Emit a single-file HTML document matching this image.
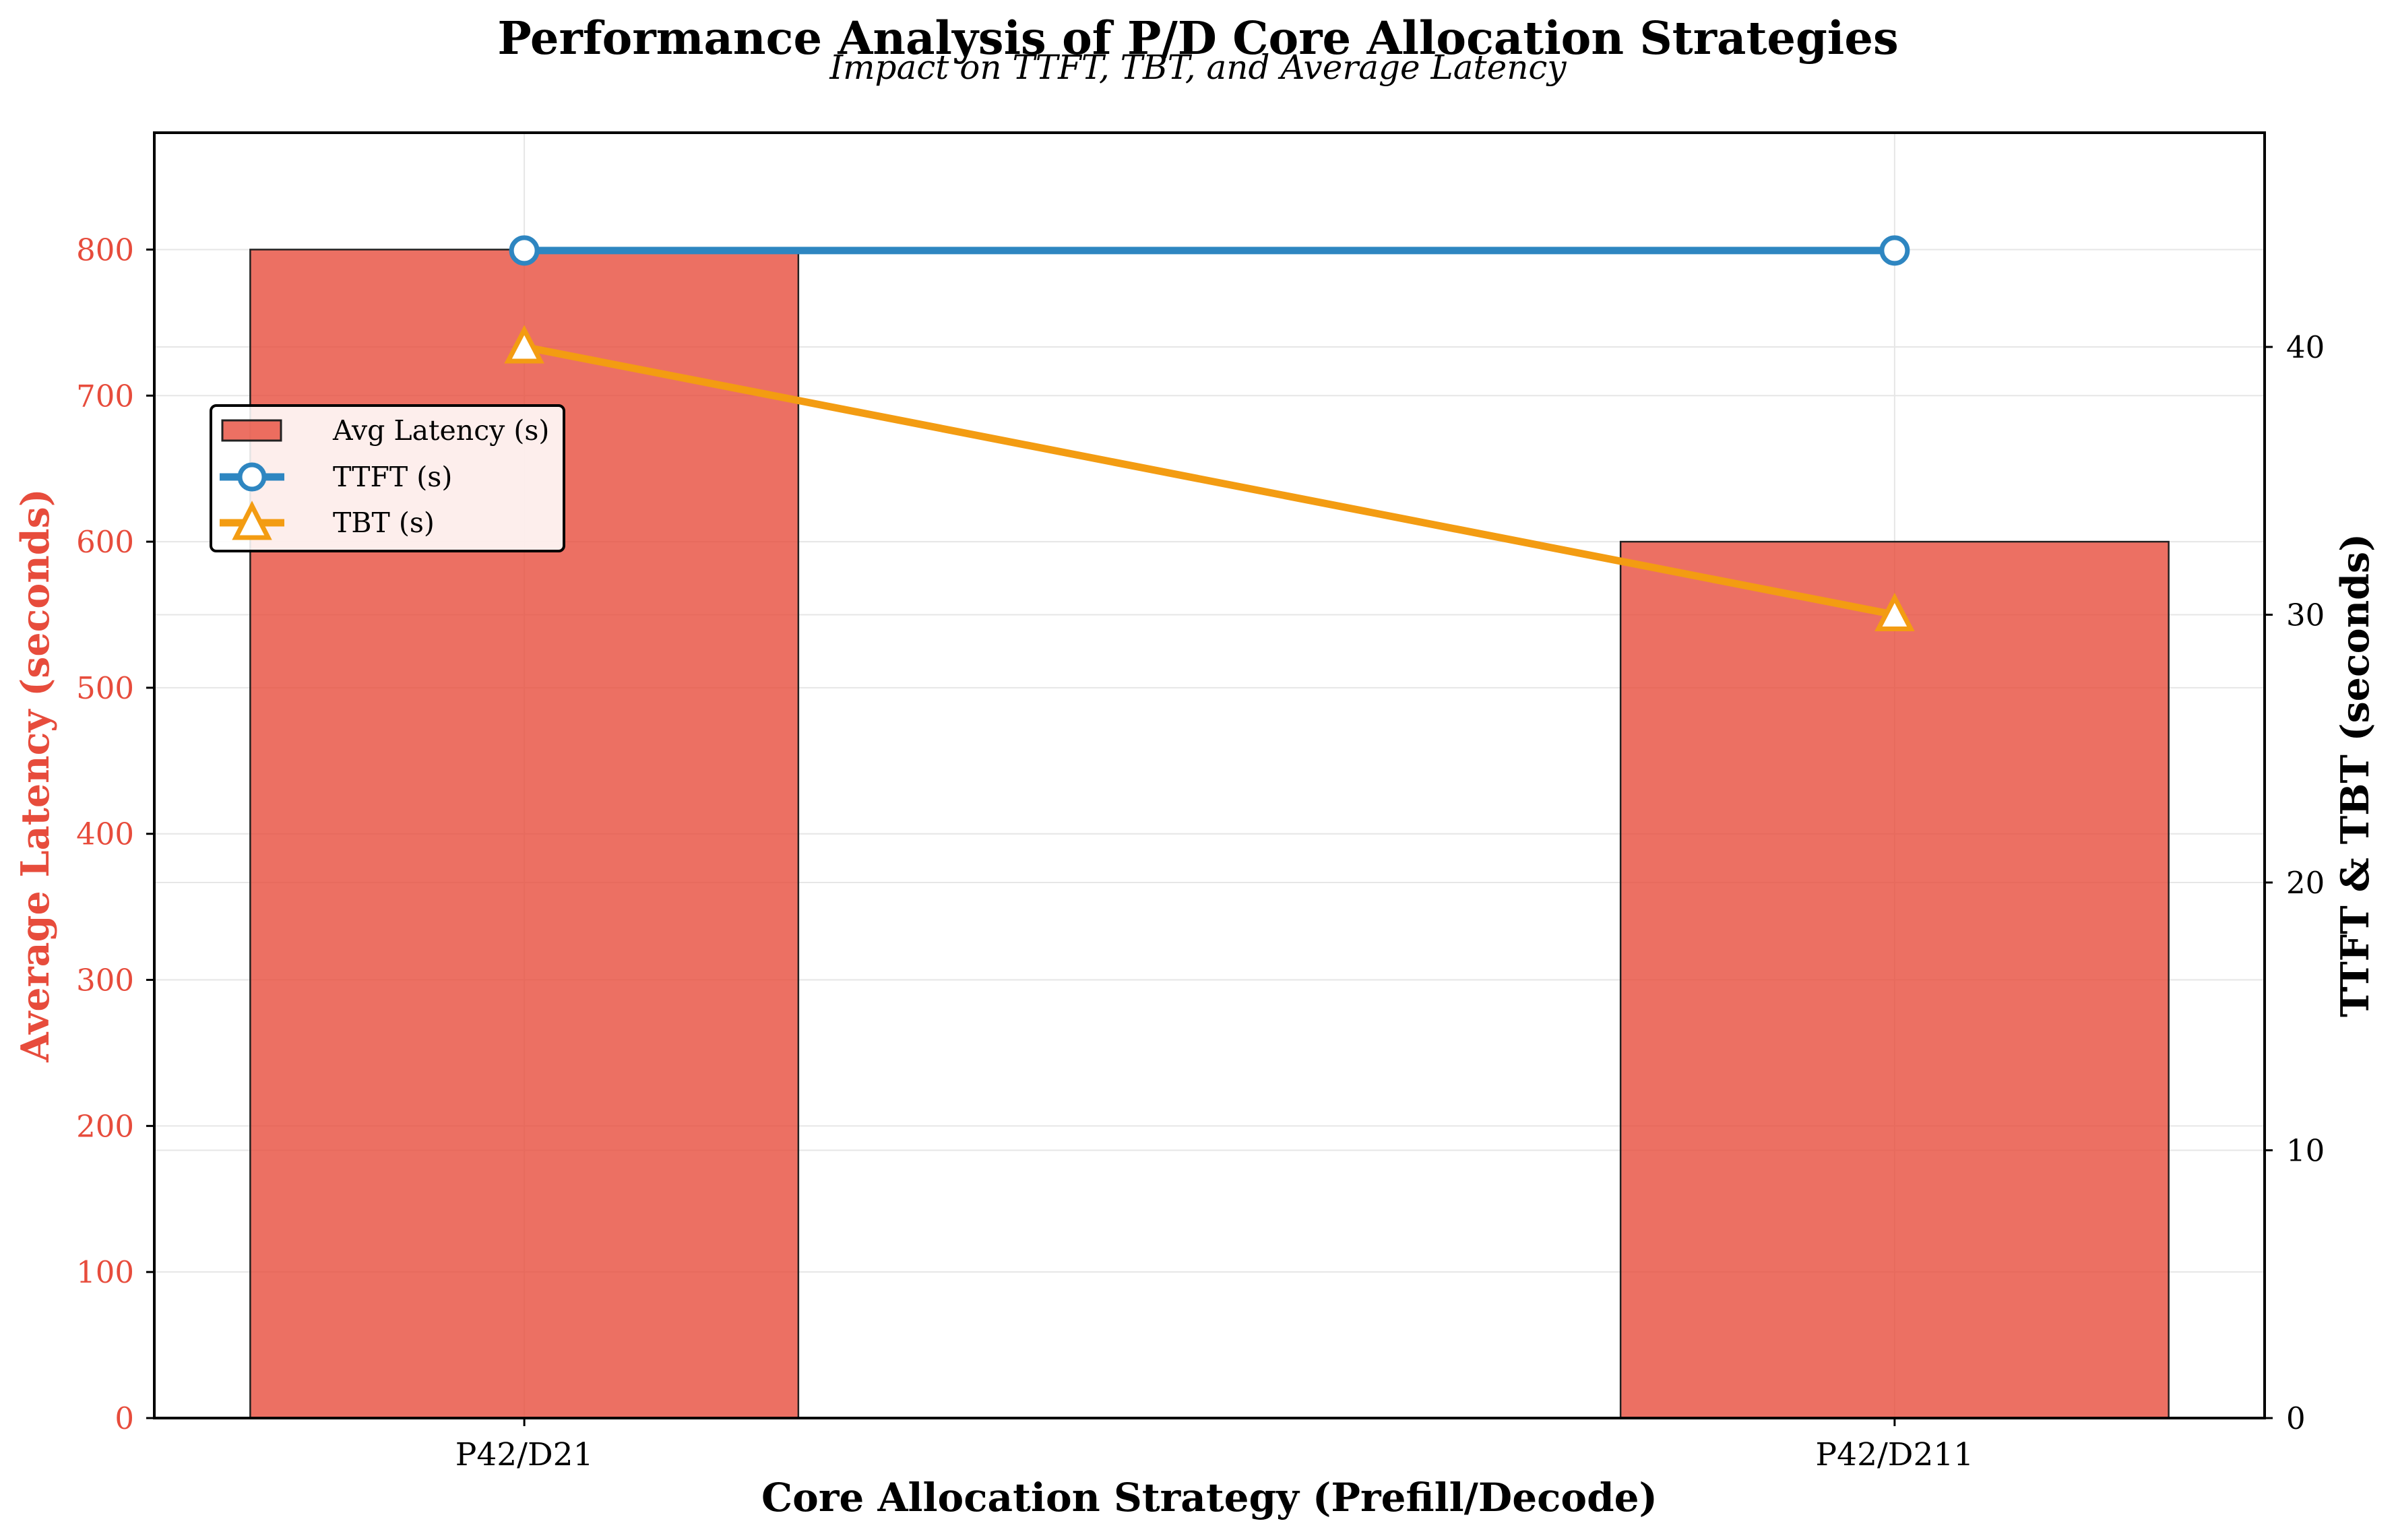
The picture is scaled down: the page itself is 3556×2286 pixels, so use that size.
<!DOCTYPE html>
<html><head><meta charset="utf-8"><style>
html,body{margin:0;padding:0;background:#fff;}
svg{display:block;font-family:"DejaVu Serif","Liberation Serif",serif;}
</style></head><body>
<svg id="chart" width="3556" height="2286" viewBox="0 0 3556 2286" xmlns="http://www.w3.org/2000/svg">
<text x="1778" y="80" text-anchor="middle" font-size="67" font-weight="bold">Performance Analysis of P/D Core Allocation Strategies</text>
<text x="1778" y="117" text-anchor="middle" font-size="50" font-style="italic">Impact on TTFT, TBT, and Average Latency</text>
<g id="grid"></g>
<g id="bars"></g>
<g id="lines"></g>
<g id="axes"></g>
<text transform="translate(72,1151) rotate(-90)" text-anchor="middle" font-size="57" font-weight="bold" fill="#e74c3c">Average Latency (seconds)</text>
<text transform="translate(3515,1151) rotate(-90)" text-anchor="middle" font-size="57" font-weight="bold" fill="#000">TTFT &amp; TBT (seconds)</text>
<text x="1795" y="2243" text-anchor="middle" font-size="58" font-weight="bold">Core Allocation Strategy (Prefill/Decode)</text>
<g>
<rect x="313" y="602" width="524" height="216" rx="8" fill="#fff" fill-opacity="0.88" stroke="#000" stroke-width="4"/>
<rect x="330" y="624" width="87" height="30" fill="#e74c3c" fill-opacity="0.8" stroke="#222" stroke-width="3"/>
<text x="494" y="653" font-size="41">Avg Latency (s)</text>
<line x1="326" y1="708" x2="422" y2="708" stroke="#2e86c1" stroke-width="11"/>
<circle cx="374" cy="708" r="18" fill="#fff" stroke="#2e86c1" stroke-width="7"/>
<text x="494" y="722" font-size="41">TTFT (s)</text>
<line x1="326" y1="776" x2="422" y2="776" stroke="#f39c12" stroke-width="11"/>
<polygon points="374,751 398,798 350,798" fill="#fff" stroke="#f39c12" stroke-width="7"/>
<text x="494" y="790" font-size="41">TBT (s)</text>
</g>
</svg>
<script>
const categories = ["P42/D21", "P42/D211"];
const avgLatency = [800, 600];
const ttft = [43.6, 43.6];
const tbt = [40, 30];
const leftTicks = [0,100,200,300,400,500,600,700,800];
const rightTicks = [0,10,20,30,40];

const NS = "http://www.w3.org/2000/svg";
const L = 229, R = 3361, T = 197, B = 2105;
const xScale = v => L + (v + 0.27) / 1.54 * (R - L);
const yLeft = v => B - v / 880 * (B - T);
const yRight = v => B - v / 48 * (B - T);
function mk(tag, attrs, parent, txt){const e=document.createElementNS(NS,tag);for(const k in attrs)e.setAttribute(k,attrs[k]);if(txt!==undefined)e.textContent=txt;parent.appendChild(e);return e;}
const grid=document.getElementById('grid'), bars=document.getElementById('bars'), lines=document.getElementById('lines'), axes=document.getElementById('axes');

leftTicks.forEach(t=>{const e=mk('line',{x1:L,x2:R,y1:yLeft(t),y2:yLeft(t),stroke:'#e6e6e6','stroke-width':2},grid);

});
rightTicks.forEach(t=>{const e=mk('line',{x1:L,x2:R,y1:yRight(t),y2:yRight(t),stroke:'#e6e6e6','stroke-width':2},grid);

});
categories.forEach((c,i)=>{const e=mk('line',{x1:xScale(i),x2:xScale(i),y1:T,y2:B,stroke:'#e6e6e6','stroke-width':2},grid);

});

const bw = 0.4;
avgLatency.forEach((v,i)=>{const x0=xScale(i-bw/2), x1=xScale(i+bw/2);
const e=mk('rect',{x:x0,y:yLeft(v),width:x1-x0,height:B-yLeft(v),fill:'#e74c3c','fill-opacity':0.8,stroke:'#222','stroke-width':2.5},bars);

});

function series(vals,color,name,marker){
const pts=vals.map((v,i)=>xScale(i)+','+yRight(v)).join(' ');
const pl=mk('polyline',{points:pts,fill:'none',stroke:color,'stroke-width':11,'stroke-linejoin':'round'},lines);


vals.forEach((v,i)=>{const cx=xScale(i), cy=yRight(v); let m;
if(marker==='circle') m=mk('circle',{cx:cx,cy:cy,r:19,fill:'#fff',stroke:color,'stroke-width':7},lines);
else m=mk('polygon',{points:`${cx},${cy-25} ${cx+24},${cy+21} ${cx-24},${cy+21}`,fill:'#fff',stroke:color,'stroke-width':7},lines);

});
}
series(ttft,'#2e86c1','ttft','circle');
series(tbt,'#f39c12','tbt','tri');

const frame=mk('rect',{x:L,y:T,width:R-L,height:B-T,fill:'none',stroke:'#000','stroke-width':4},axes);


leftTicks.forEach(t=>{mk('line',{x1:L-12,x2:L,y1:yLeft(t),y2:yLeft(t),stroke:'#000','stroke-width':3},axes);
const e=mk('text',{x:L-30,y:yLeft(t)+16,'text-anchor':'end','font-size':45,fill:'#e74c3c'},axes,String(t));

});
rightTicks.forEach(t=>{mk('line',{x1:R,x2:R+12,y1:yRight(t),y2:yRight(t),stroke:'#000','stroke-width':3},axes);
const e=mk('text',{x:R+32,y:yRight(t)+16,'text-anchor':'start','font-size':45,fill:'#000'},axes,String(t));

});
categories.forEach((c,i)=>{mk('line',{x1:xScale(i),x2:xScale(i),y1:B,y2:B+12,stroke:'#000','stroke-width':3},axes);
const e=mk('text',{x:xScale(i),y:B+70,'text-anchor':'middle','font-size':47},axes,c);

});
</script>
</body></html>
